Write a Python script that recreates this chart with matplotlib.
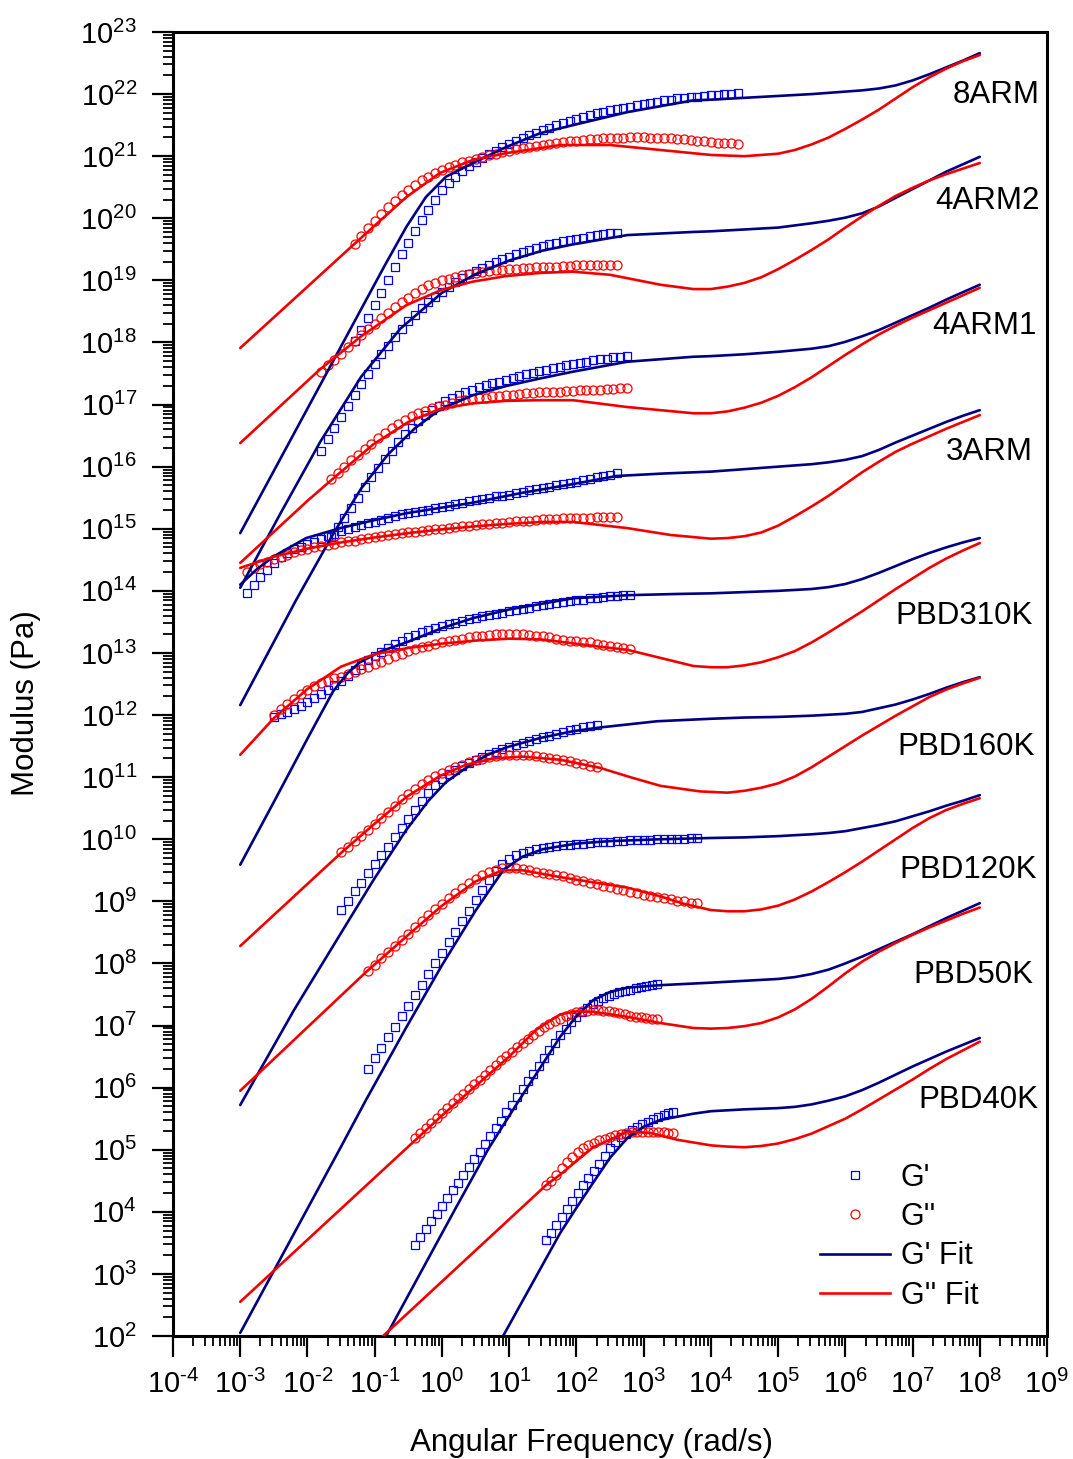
import numpy as np
import matplotlib
matplotlib.use('Agg')
import matplotlib.pyplot as plt
from matplotlib.ticker import FixedLocator, NullFormatter, FuncFormatter
from matplotlib.lines import Line2D

plt.rcParams['font.family'] = ['Liberation Sans', 'DejaVu Sans']
plt.rcParams['mathtext.fontset'] = 'custom'
plt.rcParams['mathtext.rm'] = 'Liberation Sans'
plt.rcParams['mathtext.it'] = 'Liberation Sans:italic'
plt.rcParams['mathtext.bf'] = 'Liberation Sans:bold'

# all values below are log10(angular frequency) / log10(modulus)

# ---------------- 8ARM ----------------
ARM8_W = [-1.3, -1.2, -1.1, -1.0, -0.9, -0.8, -0.7, -0.6, -0.5, -0.4,
          -0.3, -0.2, -0.1, 0.0, 0.1, 0.2, 0.3, 0.4, 0.5, 0.6,
          0.7, 0.8, 0.9, 1.0, 1.1, 1.2, 1.3, 1.4, 1.5, 1.6,
          1.7, 1.8, 1.9, 2.0, 2.1, 2.2, 2.3, 2.4, 2.5, 2.6,
          2.7, 2.8, 2.9, 3.0, 3.1, 3.2, 3.3, 3.4, 3.5, 3.6,
          3.7, 3.8, 3.9, 4.0, 4.1, 4.2, 4.3, 4.4]
ARM8_GP = [18.02, 18.2, 18.4, 18.6, 18.8, 19.01, 19.22, 19.42, 19.61, 19.8,
           19.98, 20.14, 20.3, 20.45, 20.57, 20.67, 20.76, 20.84, 20.91, 20.97,
           21.03, 21.09, 21.14, 21.19, 21.24, 21.29, 21.34, 21.38, 21.42, 21.46,
           21.5, 21.54, 21.57, 21.6, 21.63, 21.66, 21.69, 21.71, 21.74, 21.76,
           21.78, 21.8, 21.82, 21.84, 21.86, 21.88, 21.9, 21.91, 21.93, 21.94,
           21.95, 21.96, 21.97, 21.98, 21.99, 22.0, 22.0, 22.01]
ARM8_GPP = [19.58, 19.72, 19.84, 19.96, 20.07, 20.18, 20.28, 20.37, 20.46, 20.54,
            20.61, 20.67, 20.73, 20.78, 20.82, 20.86, 20.9, 20.93, 20.96, 20.99,
            21.02, 21.04, 21.07, 21.09, 21.11, 21.13, 21.15, 21.17, 21.18, 21.2,
            21.21, 21.23, 21.24, 21.25, 21.26, 21.27, 21.28, 21.29, 21.29, 21.3,
            21.3, 21.31, 21.31, 21.31, 21.3, 21.3, 21.29, 21.29, 21.28, 21.27,
            21.26, 21.25, 21.24, 21.23, 21.22, 21.21, 21.21, 21.2]
ARM8_FIT_GP_W = [-3.0, -1.13, -0.83, -0.53, -0.24, 0.06, 0.3, 0.46, 0.96, 1.46,
                 1.95, 2.76, 3.74, 4.0, 4.5, 5.0, 5.5, 5.75, 6.0, 6.25,
                 6.5, 6.75, 7.0, 7.25, 7.5, 7.75, 8.0]
ARM8_FIT_GP = [14.93, 18.68, 19.28, 19.86, 20.34, 20.67, 20.8, 20.89, 21.15, 21.37,
               21.5, 21.71, 21.9, 21.91, 21.94, 21.97, 22.0, 22.02, 22.04, 22.06,
               22.09, 22.14, 22.22, 22.32, 22.43, 22.54, 22.66]
ARM8_FIT_GPP_W = [-3.0, -1.37, -0.9, -0.53, -0.03, 0.46, 0.96, 1.46, 1.76, 2.5,
                  3.25, 4.0, 4.5, 5.0, 5.25, 5.5, 5.75, 6.0, 6.25, 6.5,
                  6.75, 7.0, 7.25, 7.5, 7.75, 8.0]
ARM8_FIT_GPP = [17.91, 19.52, 19.98, 20.34, 20.73, 20.94, 21.05, 21.13, 21.18, 21.18,
                21.1, 21.02, 21.0, 21.04, 21.1, 21.19, 21.3, 21.44, 21.59, 21.75,
                21.93, 22.11, 22.27, 22.41, 22.53, 22.63]

# ---------------- 4ARM2 ----------------
ARM4B_W = [-1.8, -1.7, -1.6, -1.5, -1.4, -1.3, -1.2, -1.1, -1.0, -0.9,
           -0.8, -0.7, -0.6, -0.5, -0.4, -0.3, -0.2, -0.1, 0.0, 0.1,
           0.2, 0.3, 0.4, 0.5, 0.6, 0.7, 0.8, 0.9, 1.0, 1.1,
           1.2, 1.3, 1.4, 1.5, 1.6, 1.7, 1.8, 1.9, 2.0, 2.1,
           2.2, 2.3, 2.4, 2.5, 2.6]
ARM4B_GP = [16.25, 16.44, 16.62, 16.8, 16.98, 17.16, 17.33, 17.5, 17.66, 17.81,
            17.95, 18.09, 18.22, 18.34, 18.45, 18.55, 18.65, 18.74, 18.82, 18.9,
            18.97, 19.04, 19.1, 19.15, 19.2, 19.25, 19.3, 19.34, 19.38, 19.42,
            19.45, 19.49, 19.52, 19.55, 19.58, 19.6, 19.63, 19.65, 19.67, 19.69,
            19.71, 19.73, 19.74, 19.76, 19.77]
ARM4B_GPP = [17.53, 17.63, 17.72, 17.82, 17.92, 18.02, 18.12, 18.21, 18.3, 18.39,
             18.48, 18.57, 18.65, 18.72, 18.79, 18.86, 18.92, 18.96, 19.0, 19.03,
             19.06, 19.08, 19.1, 19.12, 19.13, 19.15, 19.16, 19.17, 19.18, 19.19,
             19.2, 19.2, 19.21, 19.21, 19.22, 19.22, 19.23, 19.23, 19.24, 19.24,
             19.24, 19.24, 19.24, 19.24, 19.24]
ARM4B_FIT_GP_W = [-3.0, -2.4, -1.81, -1.2, -0.62, 0.0, 0.5, 1.0, 1.5, 1.95,
                  2.76, 3.74, 4.0, 4.5, 5.0, 5.5, 5.75, 6.0, 6.25, 6.5,
                  6.75, 7.0, 7.25, 7.5, 7.75, 8.0]
ARM4B_FIT_GP = [14.05, 15.25, 16.4, 17.45, 18.22, 18.8, 19.1, 19.32, 19.48, 19.58,
                19.73, 19.78, 19.79, 19.82, 19.85, 19.92, 19.96, 20.01, 20.08, 20.19,
                20.33, 20.47, 20.61, 20.75, 20.87, 20.99]
ARM4B_FIT_GPP_W = [-3.0, -1.81, -1.2, -0.53, 0.0, 0.46, 0.96, 1.46, 1.95, 2.5,
                   3.25, 3.74, 4.0, 4.25, 4.5, 4.75, 5.0, 5.25, 5.5, 5.75,
                   6.0, 6.25, 6.5, 6.75, 7.0, 7.25, 7.5, 7.75, 8.0]
ARM4B_FIT_GPP = [16.38, 17.57, 18.1, 18.6, 18.85, 18.98, 19.07, 19.12, 19.14, 19.09,
                 18.93, 18.86, 18.86, 18.9, 18.96, 19.05, 19.18, 19.33, 19.49, 19.66,
                 19.85, 20.03, 20.2, 20.36, 20.49, 20.61, 20.71, 20.8, 20.89]

# ---------------- 4ARM1 ----------------
ARM4A_W = [-1.65, -1.55, -1.45, -1.35, -1.25, -1.15, -1.05, -0.95, -0.85, -0.75,
           -0.65, -0.55, -0.45, -0.35, -0.25, -0.15, -0.05, 0.05, 0.15, 0.25,
           0.35, 0.45, 0.55, 0.65, 0.75, 0.85, 0.95, 1.05, 1.15, 1.25,
           1.35, 1.45, 1.55, 1.65, 1.75, 1.85, 1.95, 2.05, 2.15, 2.25,
           2.35, 2.45, 2.55, 2.65, 2.75]
ARM4A_GP = [14.87, 15.03, 15.18, 15.34, 15.5, 15.67, 15.83, 15.98, 16.12, 16.26,
            16.4, 16.52, 16.63, 16.73, 16.83, 16.91, 16.98, 17.05, 17.11, 17.16,
            17.2, 17.24, 17.28, 17.31, 17.34, 17.37, 17.4, 17.43, 17.46, 17.49,
            17.51, 17.54, 17.56, 17.59, 17.61, 17.63, 17.65, 17.67, 17.69, 17.71,
            17.73, 17.74, 17.76, 17.77, 17.79]
ARM4A_GPP = [15.8, 15.9, 16.0, 16.1, 16.19, 16.28, 16.37, 16.46, 16.54, 16.62,
             16.69, 16.75, 16.81, 16.86, 16.9, 16.94, 16.97, 17.0, 17.03, 17.05,
             17.07, 17.09, 17.1, 17.11, 17.13, 17.14, 17.15, 17.16, 17.17, 17.18,
             17.19, 17.2, 17.2, 17.21, 17.21, 17.22, 17.22, 17.23, 17.23, 17.24,
             17.24, 17.25, 17.25, 17.26, 17.26]
ARM4A_FIT_GP_W = [-3.0, -2.17, -1.6, -1.2, -0.8, -0.4, -0.03, 0.46, 0.96, 1.46,
                  1.95, 2.76, 3.74, 4.0, 4.5, 5.0, 5.5, 5.75, 6.0, 6.25,
                  6.5, 6.75, 7.0, 7.25, 7.5, 7.75, 8.0]
ARM4A_FIT_GP = [12.16, 13.85, 14.95, 15.65, 16.2, 16.62, 16.92, 17.15, 17.3, 17.42,
                17.53, 17.69, 17.77, 17.78, 17.81, 17.85, 17.9, 17.94, 18.01, 18.1,
                18.2, 18.32, 18.44, 18.56, 18.69, 18.81, 18.93]
ARM4A_FIT_GPP_W = [-3.0, -2.0, -1.66, -1.02, -0.5, -0.03, 0.46, 0.96, 1.46, 1.95,
                   2.76, 3.74, 4.0, 4.25, 4.5, 4.75, 5.0, 5.25, 5.5, 5.75,
                   6.0, 6.25, 6.5, 6.75, 7.0, 7.25, 7.5, 7.75, 8.0]
ARM4A_FIT_GPP = [14.45, 15.45, 15.77, 16.36, 16.72, 16.93, 17.02, 17.06, 17.07, 17.07,
                 16.96, 16.86, 16.86, 16.89, 16.95, 17.03, 17.14, 17.28, 17.44, 17.62,
                 17.8, 17.97, 18.13, 18.27, 18.4, 18.52, 18.64, 18.76, 18.88]

# ---------------- 3ARM ----------------
ARM3_W = [-2.9, -2.8, -2.7, -2.6, -2.5, -2.4, -2.3, -2.2, -2.1, -2.0,
          -1.9, -1.8, -1.7, -1.6, -1.5, -1.4, -1.3, -1.2, -1.1, -1.0,
          -0.9, -0.8, -0.7, -0.6, -0.5, -0.4, -0.3, -0.2, -0.1, 0.0,
          0.1, 0.2, 0.3, 0.4, 0.5, 0.6, 0.7, 0.8, 0.9, 1.0,
          1.1, 1.2, 1.3, 1.4, 1.5, 1.6, 1.7, 1.8, 1.9, 2.0,
          2.1, 2.2, 2.3, 2.4, 2.5, 2.6]
ARM3_GP = [13.96, 14.1, 14.22, 14.33, 14.45, 14.54, 14.61, 14.67, 14.71, 14.75,
           14.79, 14.84, 14.88, 14.92, 14.97, 15.0, 15.03, 15.06, 15.09, 15.11,
           15.14, 15.17, 15.2, 15.23, 15.25, 15.27, 15.29, 15.31, 15.33, 15.35,
           15.37, 15.4, 15.42, 15.44, 15.46, 15.48, 15.5, 15.52, 15.53, 15.55,
           15.57, 15.6, 15.62, 15.64, 15.66, 15.68, 15.7, 15.72, 15.74, 15.76,
           15.78, 15.8, 15.83, 15.85, 15.87, 15.9]
ARM3_GPP = [14.31, 14.37, 14.43, 14.47, 14.51, 14.55, 14.58, 14.62, 14.65, 14.67,
            14.7, 14.72, 14.74, 14.76, 14.78, 14.8, 14.81, 14.83, 14.85, 14.86,
            14.88, 14.9, 14.91, 14.93, 14.94, 14.95, 14.97, 14.98, 14.99, 15.0,
            15.01, 15.03, 15.04, 15.05, 15.06, 15.07, 15.08, 15.09, 15.1, 15.11,
            15.12, 15.13, 15.13, 15.14, 15.15, 15.16, 15.16, 15.17, 15.17, 15.18,
            15.18, 15.18, 15.19, 15.19, 15.19, 15.19]
ARM3_FIT_GP_W = [-3.0, -2.75, -2.51, -2.02, -1.51, -1.0, -0.53, 0.46, 1.2, 1.95,
                 2.6, 3.3, 4.0, 4.5, 5.0, 5.5, 5.75, 6.0, 6.25, 6.5,
                 6.75, 7.0, 7.25, 7.5, 7.75, 8.0]
ARM3_FIT_GP = [14.1, 14.35, 14.55, 14.85, 15.01, 15.14, 15.25, 15.42, 15.58, 15.72,
               15.85, 15.89, 15.92, 15.96, 16.0, 16.04, 16.07, 16.11, 16.17, 16.27,
               16.39, 16.5, 16.61, 16.72, 16.82, 16.91]
ARM3_FIT_GPP_W = [-3.0, -2.5, -2.0, -1.5, -1.0, -0.5, 0.0, 0.5, 1.0, 1.5,
                  1.95, 2.76, 3.4, 4.0, 4.25, 4.5, 4.75, 5.0, 5.25, 5.5,
                  5.75, 6.0, 6.25, 6.5, 6.75, 7.0, 7.25, 7.5, 7.75, 8.0]
ARM3_FIT_GPP = [14.37, 14.55, 14.68, 14.78, 14.86, 14.93, 14.99, 15.04, 15.08, 15.11,
                15.11, 15.01, 14.9, 14.84, 14.85, 14.88, 14.94, 15.05, 15.2, 15.36,
                15.53, 15.72, 15.91, 16.08, 16.24, 16.37, 16.49, 16.61, 16.72, 16.83]

# ---------------- PBD310K ----------------
PBD310_W = [-2.5, -2.4, -2.3, -2.2, -2.1, -2.0, -1.9, -1.8, -1.7, -1.6,
            -1.5, -1.4, -1.3, -1.2, -1.1, -1.0, -0.9, -0.8, -0.7, -0.6,
            -0.5, -0.4, -0.3, -0.2, -0.1, 0.0, 0.1, 0.2, 0.3, 0.4,
            0.5, 0.6, 0.7, 0.8, 0.9, 1.0, 1.1, 1.2, 1.3, 1.4,
            1.5, 1.6, 1.7, 1.8, 1.9, 2.0, 2.1, 2.2, 2.3, 2.4,
            2.5, 2.6, 2.7, 2.8]
PBD310_GP = [11.97, 12.01, 12.05, 12.1, 12.15, 12.21, 12.27, 12.34, 12.41, 12.48,
             12.55, 12.63, 12.72, 12.8, 12.88, 12.95, 13.02, 13.08, 13.14, 13.2,
             13.25, 13.29, 13.33, 13.37, 13.4, 13.43, 13.46, 13.49, 13.52, 13.55,
             13.57, 13.59, 13.61, 13.63, 13.65, 13.67, 13.69, 13.71, 13.73, 13.75,
             13.77, 13.79, 13.81, 13.82, 13.84, 13.85, 13.86, 13.88, 13.89, 13.9,
             13.91, 13.92, 13.93, 13.93]
PBD310_GPP = [12.0, 12.09, 12.18, 12.26, 12.34, 12.41, 12.46, 12.51, 12.55, 12.59,
              12.62, 12.66, 12.7, 12.74, 12.78, 12.82, 12.86, 12.91, 12.95, 12.99,
              13.03, 13.06, 13.09, 13.12, 13.14, 13.17, 13.19, 13.21, 13.23, 13.25,
              13.27, 13.28, 13.29, 13.3, 13.31, 13.31, 13.31, 13.3, 13.29, 13.28,
              13.27, 13.25, 13.23, 13.21, 13.2, 13.19, 13.18, 13.17, 13.15, 13.13,
              13.11, 13.1, 13.08, 13.07]
PBD310_FIT_GP_W = [-3.0, -2.5, -2.0, -1.62, -1.4, -1.22, -0.9, -0.53, 0.0, 0.46,
                   1.0, 1.95, 2.76, 3.5, 4.0, 4.5, 5.0, 5.5, 5.75, 6.0,
                   6.25, 6.5, 6.75, 7.0, 7.25, 7.5, 7.75, 8.0]
PBD310_FIT_GP = [9.59, 10.6, 11.62, 12.38, 12.68, 12.85, 13.03, 13.17, 13.4, 13.56,
                 13.7, 13.88, 13.93, 13.95, 13.96, 13.98, 14.0, 14.03, 14.06, 14.11,
                 14.19, 14.29, 14.4, 14.51, 14.61, 14.7, 14.78, 14.85]
PBD310_FIT_GPP_W = [-3.0, -2.5, -2.0, -1.5, -1.0, -0.5, 0.0, 0.5, 1.0, 1.46,
                    1.76, 2.35, 2.76, 3.25, 3.74, 4.0, 4.25, 4.5, 4.75, 5.0,
                    5.25, 5.5, 5.75, 6.0, 6.25, 6.5, 6.75, 7.0, 7.25, 7.5,
                    7.75, 8.0]
PBD310_FIT_GPP = [11.36, 11.95, 12.42, 12.78, 12.98, 13.08, 13.15, 13.2, 13.23, 13.22,
                  13.18, 13.1, 13.05, 12.92, 12.79, 12.77, 12.77, 12.8, 12.85, 12.93,
                  13.03, 13.17, 13.33, 13.5, 13.67, 13.85, 14.03, 14.2, 14.37, 14.52,
                  14.65, 14.77]

# ---------------- PBD160K ----------------
PBD160_W = [-1.5, -1.4, -1.3, -1.2, -1.1, -1.0, -0.9, -0.8, -0.7, -0.6,
            -0.5, -0.4, -0.3, -0.2, -0.1, 0.0, 0.1, 0.2, 0.3, 0.4,
            0.5, 0.6, 0.7, 0.8, 0.9, 1.0, 1.1, 1.2, 1.3, 1.4,
            1.5, 1.6, 1.7, 1.8, 1.9, 2.0, 2.1, 2.2, 2.3]
PBD160_GP = [8.86, 9.01, 9.16, 9.3, 9.45, 9.6, 9.74, 9.88, 10.03, 10.18,
             10.33, 10.47, 10.62, 10.75, 10.87, 10.97, 11.05, 11.12, 11.18, 11.23,
             11.28, 11.33, 11.37, 11.41, 11.45, 11.49, 11.52, 11.55, 11.58, 11.61,
             11.64, 11.67, 11.7, 11.73, 11.76, 11.78, 11.8, 11.82, 11.84]
PBD160_GPP = [9.8, 9.88, 9.97, 10.06, 10.15, 10.24, 10.34, 10.44, 10.54, 10.64,
              10.73, 10.81, 10.89, 10.96, 11.02, 11.07, 11.12, 11.16, 11.2, 11.24,
              11.27, 11.3, 11.32, 11.34, 11.35, 11.36, 11.36, 11.36, 11.35, 11.34,
              11.33, 11.31, 11.3, 11.28, 11.26, 11.23, 11.21, 11.18, 11.16]
PBD160_FIT_GP_W = [-3.0, -2.2, -1.32, -1.02, -0.53, -0.2, 0.06, 0.36, 0.66, 0.96,
                   1.46, 1.95, 2.35, 3.2, 4.0, 4.5, 5.0, 5.5, 6.0, 6.25,
                   6.5, 6.75, 7.0, 7.25, 7.5, 7.75, 8.0]
PBD160_FIT_GP = [5.72, 7.25, 8.81, 9.34, 10.15, 10.62, 10.92, 11.15, 11.35, 11.48,
                 11.63, 11.74, 11.8, 11.9, 11.94, 11.96, 11.97, 11.99, 12.02, 12.05,
                 12.11, 12.17, 12.25, 12.34, 12.44, 12.53, 12.61]
PBD160_FIT_GPP_W = [-3.0, -1.5, -1.0, -0.53, -0.03, 0.36, 0.76, 1.2, 1.76, 2.35,
                    2.8, 3.25, 3.84, 4.25, 4.5, 4.75, 5.0, 5.25, 5.5, 5.75,
                    6.0, 6.25, 6.5, 6.75, 7.0, 7.25, 7.5, 7.75, 8.0]
PBD160_FIT_GPP = [8.28, 9.78, 10.25, 10.68, 11.02, 11.2, 11.3, 11.33, 11.28, 11.15,
                  11.0, 10.86, 10.77, 10.75, 10.78, 10.83, 10.9, 11.01, 11.16, 11.33,
                  11.5, 11.67, 11.83, 11.99, 12.14, 12.29, 12.41, 12.51, 12.6]

# ---------------- PBD120K ----------------
PBD120_W = [-1.1, -1.0, -0.9, -0.8, -0.7, -0.6, -0.5, -0.4, -0.3, -0.2,
            -0.1, 0.0, 0.1, 0.2, 0.3, 0.4, 0.5, 0.6, 0.7, 0.8,
            0.9, 1.0, 1.1, 1.2, 1.3, 1.4, 1.5, 1.6, 1.7, 1.8,
            1.9, 2.0, 2.1, 2.2, 2.3, 2.4, 2.5, 2.6, 2.7, 2.8,
            2.9, 3.0, 3.1, 3.2, 3.3, 3.4, 3.5, 3.6, 3.7, 3.8]
PBD120_GP = [6.3, 6.47, 6.64, 6.81, 6.98, 7.15, 7.32, 7.49, 7.66, 7.83,
             8.0, 8.17, 8.34, 8.51, 8.68, 8.85, 9.02, 9.19, 9.35, 9.49,
             9.6, 9.68, 9.74, 9.78, 9.81, 9.84, 9.86, 9.88, 9.89, 9.9,
             9.91, 9.92, 9.93, 9.94, 9.95, 9.96, 9.96, 9.97, 9.97, 9.98,
             9.98, 9.99, 9.99, 10.0, 10.0, 10.0, 10.01, 10.01, 10.02, 10.02]
PBD120_GPP = [7.88, 7.98, 8.08, 8.18, 8.28, 8.38, 8.48, 8.58, 8.68, 8.78,
              8.87, 8.96, 9.05, 9.13, 9.21, 9.29, 9.36, 9.42, 9.47, 9.51,
              9.53, 9.54, 9.53, 9.52, 9.5, 9.48, 9.46, 9.44, 9.42, 9.4,
              9.37, 9.35, 9.33, 9.3, 9.28, 9.25, 9.23, 9.2, 9.18, 9.15,
              9.13, 9.11, 9.09, 9.07, 9.05, 9.03, 9.01, 9.0, 8.98, 8.97]
PBD120_FIT_GP_W = [-3.0, -1.51, -1.13, -0.53, 0.0, 0.5, 0.91, 1.2, 1.5, 2.0,
                   2.5, 3.25, 4.0, 4.5, 5.0, 5.5, 5.75, 6.0, 6.25, 6.5,
                   6.75, 7.0, 7.25, 7.5, 7.75, 8.0]
PBD120_FIT_GP = [2.05, 5.03, 5.8, 6.97, 7.97, 8.85, 9.5, 9.72, 9.84, 9.93,
                 9.97, 10.0, 10.02, 10.03, 10.05, 10.08, 10.1, 10.13, 10.18, 10.23,
                 10.29, 10.37, 10.45, 10.54, 10.62, 10.71]
PBD120_FIT_GPP_W = [-3.0, -1.13, -0.5, 0.0, 0.5, 0.9, 1.2, 1.76, 2.76, 3.25,
                    3.6, 4.0, 4.25, 4.5, 4.75, 5.0, 5.25, 5.5, 5.75, 6.0,
                    6.25, 6.5, 6.75, 7.0, 7.25, 7.5, 7.75, 8.0]
PBD120_FIT_GPP = [5.95, 7.86, 8.46, 8.93, 9.32, 9.5, 9.5, 9.39, 9.22, 9.08,
                  8.96, 8.86, 8.84, 8.84, 8.87, 8.93, 9.03, 9.16, 9.31, 9.47,
                  9.64, 9.82, 10.0, 10.18, 10.34, 10.47, 10.57, 10.66]

# ---------------- PBD50K ----------------
PBD50_W = [-0.4, -0.32, -0.24, -0.16, -0.08, 0.0, 0.08, 0.16, 0.24, 0.32,
           0.4, 0.48, 0.56, 0.64, 0.72, 0.8, 0.88, 0.96, 1.04, 1.12,
           1.2, 1.28, 1.36, 1.44, 1.52, 1.6, 1.68, 1.76, 1.84, 1.92,
           2.0, 2.08, 2.16, 2.24, 2.32, 2.4, 2.48, 2.56, 2.64, 2.72,
           2.8, 2.88, 2.96, 3.04, 3.12, 3.2]
PBD50_GP = [3.47, 3.6, 3.72, 3.85, 3.97, 4.1, 4.22, 4.35, 4.47, 4.6,
            4.72, 4.85, 4.97, 5.1, 5.22, 5.35, 5.47, 5.6, 5.72, 5.85,
            5.97, 6.1, 6.22, 6.35, 6.47, 6.6, 6.72, 6.84, 6.95, 7.05,
            7.14, 7.22, 7.29, 7.35, 7.4, 7.44, 7.48, 7.51, 7.54, 7.56,
            7.58, 7.6, 7.62, 7.64, 7.66, 7.67]
PBD50_GPP = [5.19, 5.27, 5.35, 5.43, 5.51, 5.59, 5.67, 5.75, 5.83, 5.9,
             5.98, 6.06, 6.13, 6.21, 6.29, 6.36, 6.44, 6.51, 6.58, 6.65,
             6.72, 6.79, 6.85, 6.91, 6.97, 7.02, 7.07, 7.11, 7.15, 7.18,
             7.21, 7.23, 7.24, 7.25, 7.25, 7.24, 7.23, 7.22, 7.2, 7.18,
             7.16, 7.14, 7.13, 7.12, 7.11, 7.1]
PBD50_FIT_GP_W = [-3.0, -0.83, 0.2, 0.7, 1.15, 1.45, 1.76, 2.0, 2.25, 2.5,
                  2.76, 3.25, 4.0, 4.5, 5.0, 5.25, 5.5, 5.75, 6.0, 6.25,
                  6.5, 6.75, 7.0, 7.25, 7.5, 7.75, 8.0]
PBD50_FIT_GP = [-2.3, 2.0, 4.05, 5.03, 5.8, 6.3, 6.82, 7.15, 7.41, 7.54,
                7.61, 7.65, 7.69, 7.72, 7.75, 7.78, 7.83, 7.9, 8.0, 8.11,
                8.23, 8.35, 8.47, 8.6, 8.73, 8.85, 8.97]
PBD50_FIT_GPP_W = [-3.0, 0.0, 1.0, 1.4, 1.76, 2.0, 2.25, 2.76, 3.25, 3.74,
                   4.0, 4.25, 4.5, 4.75, 5.0, 5.25, 5.5, 5.75, 6.0, 6.25,
                   6.5, 6.75, 7.0, 7.25, 7.5, 7.75, 8.0]
PBD50_FIT_GPP = [2.55, 5.55, 6.5, 6.93, 7.18, 7.23, 7.22, 7.14, 7.04, 6.96,
                 6.95, 6.96, 6.99, 7.04, 7.13, 7.26, 7.43, 7.63, 7.84, 8.03,
                 8.19, 8.33, 8.46, 8.58, 8.69, 8.8, 8.9]

# ---------------- PBD40K ----------------
PBD40_W = [1.55, 1.62, 1.7, 1.78, 1.86, 1.94, 2.02, 2.1, 2.18, 2.26,
           2.34, 2.42, 2.5, 2.58, 2.66, 2.74, 2.82, 2.9, 2.98, 3.06,
           3.14, 3.22, 3.3, 3.37, 3.44]
PBD40_GP = [3.54, 3.66, 3.78, 3.92, 4.05, 4.18, 4.31, 4.43, 4.54, 4.65,
            4.77, 4.9, 5.02, 5.12, 5.2, 5.26, 5.32, 5.37, 5.41, 5.45,
            5.49, 5.53, 5.56, 5.59, 5.61]
PBD40_GPP = [4.43, 4.5, 4.6, 4.7, 4.8, 4.89, 4.96, 5.02, 5.07, 5.11,
             5.15, 5.18, 5.21, 5.23, 5.25, 5.27, 5.28, 5.29, 5.29, 5.29,
             5.29, 5.28, 5.28, 5.27, 5.27]
PBD40_FIT_GP_W = [-3.0, 0.91, 1.76, 2.01, 2.25, 2.5, 2.76, 3.0, 3.25, 3.74,
                  4.0, 4.5, 5.0, 5.25, 5.5, 5.75, 6.0, 6.25, 6.5, 6.75,
                  7.0, 7.25, 7.5, 7.75, 8.0]
PBD40_FIT_GP = [-5.9, 2.0, 3.66, 4.08, 4.47, 4.87, 5.19, 5.37, 5.48, 5.58,
                5.62, 5.65, 5.67, 5.69, 5.73, 5.79, 5.86, 5.96, 6.08, 6.21,
                6.34, 6.46, 6.58, 6.69, 6.8]
PBD40_FIT_GPP_W = [-3.0, -0.875, 1.55, 1.76, 2.25, 2.76, 3.1, 3.5, 4.0, 4.25,
                   4.5, 4.75, 5.0, 5.25, 5.5, 5.75, 6.0, 6.25, 6.5, 6.75,
                   7.0, 7.25, 7.5, 7.75, 8.0]
PBD40_FIT_GPP = [-0.125, 2.0, 4.43, 4.6, 5.04, 5.29, 5.27, 5.16, 5.07, 5.05,
                 5.04, 5.06, 5.1, 5.17, 5.26, 5.38, 5.5, 5.65, 5.81, 5.97,
                 6.13, 6.3, 6.46, 6.6, 6.74]

SAMPLES = ['8ARM', '4ARM2', '4ARM1', '3ARM', 'PBD310K', 'PBD160K', 'PBD120K', 'PBD50K', 'PBD40K']
# label anchor (right edge / vertical centre) in figure pixels
LABEL_X = [1040, 1040, 1037, 1033, 1033, 1035, 1037, 1033, 1038]
LABEL_Y = [95, 201, 326, 452, 616, 747, 870, 975, 1100]

# decade tick exponents shown on the axes
X_DECADES = [-4, -3, -2, -1, 0, 1, 2, 3, 4, 5, 6, 7, 8, 9]
Y_DECADES = [2, 3, 4, 5, 6, 7, 8, 9, 10, 11, 12, 13, 14, 15, 16, 17, 18, 19, 20, 21, 22, 23]

ALL = [
    (ARM8_W, ARM8_GP, ARM8_GPP, ARM8_FIT_GP_W, ARM8_FIT_GP, ARM8_FIT_GPP_W, ARM8_FIT_GPP),
    (ARM4B_W, ARM4B_GP, ARM4B_GPP, ARM4B_FIT_GP_W, ARM4B_FIT_GP, ARM4B_FIT_GPP_W, ARM4B_FIT_GPP),
    (ARM4A_W, ARM4A_GP, ARM4A_GPP, ARM4A_FIT_GP_W, ARM4A_FIT_GP, ARM4A_FIT_GPP_W, ARM4A_FIT_GPP),
    (ARM3_W, ARM3_GP, ARM3_GPP, ARM3_FIT_GP_W, ARM3_FIT_GP, ARM3_FIT_GPP_W, ARM3_FIT_GPP),
    (PBD310_W, PBD310_GP, PBD310_GPP, PBD310_FIT_GP_W, PBD310_FIT_GP, PBD310_FIT_GPP_W, PBD310_FIT_GPP),
    (PBD160_W, PBD160_GP, PBD160_GPP, PBD160_FIT_GP_W, PBD160_FIT_GP, PBD160_FIT_GPP_W, PBD160_FIT_GPP),
    (PBD120_W, PBD120_GP, PBD120_GPP, PBD120_FIT_GP_W, PBD120_FIT_GP, PBD120_FIT_GPP_W, PBD120_FIT_GPP),
    (PBD50_W, PBD50_GP, PBD50_GPP, PBD50_FIT_GP_W, PBD50_FIT_GP, PBD50_FIT_GPP_W, PBD50_FIT_GPP),
    (PBD40_W, PBD40_GP, PBD40_GPP, PBD40_FIT_GP_W, PBD40_FIT_GP, PBD40_FIT_GPP_W, PBD40_FIT_GPP),
]

NAVY = '#000080'
BLUE = '#0000FF'
RED = '#FF0000'

W_PX, H_PX = 1073, 1459
AX_L, AX_R, AX_T, AX_B = 173, 1047, 32, 1336

fig = plt.figure(figsize=(W_PX / 100, H_PX / 100), dpi=100)
ax = fig.add_axes([AX_L / W_PX, (H_PX - AX_B) / H_PX,
                   (AX_R - AX_L) / W_PX, (AX_B - AX_T) / H_PX])
ax.set_xscale('log')
ax.set_yscale('log')


def p10(v):
    return np.power(10.0, np.asarray(v, dtype=float))


for w, gp, gpp, fw1, f1, fw2, f2 in ALL:
    ax.plot(p10(w), p10(gp), ls='none', marker='s', ms=6, mfc='none',
            mec=BLUE, mew=0.9, zorder=2)
    ax.plot(p10(w), p10(gpp), ls='none', marker='o', ms=6.5, mfc='none',
            mec=RED, mew=0.9, zorder=2)
    ax.plot(p10(fw1), p10(f1), color=NAVY, lw=1.9, zorder=3,
            solid_joinstyle='round', solid_capstyle='round')
    ax.plot(p10(fw2), p10(f2), color=RED, lw=1.9, zorder=3,
            solid_joinstyle='round', solid_capstyle='round')
    # thin dark core seen on the red fit lines
    ax.plot(p10(fw2), p10(f2), color='k', lw=0.5, ls=(0, (1, 2)),
            alpha=0.45, zorder=4)

ax.set_xlim(1e-4, 1e9)
ax.set_ylim(1e2, 1e23)


def decade_label(v, pos):
    n = int(round(np.log10(v)))
    return r'$\mathregular{10^{%s}}$' % str(n).replace('-', '\u2010')


def minor_positions(decades):
    return [m * 10.0 ** d for d in decades[:-1] for m in range(2, 10)]


fmt = FuncFormatter(decade_label)
ax.xaxis.set_major_locator(FixedLocator(p10(X_DECADES)))
ax.yaxis.set_major_locator(FixedLocator(p10(Y_DECADES)))
ax.xaxis.set_minor_locator(FixedLocator(minor_positions(X_DECADES)))
ax.yaxis.set_minor_locator(FixedLocator(minor_positions(Y_DECADES)))
ax.xaxis.set_major_formatter(fmt)
ax.yaxis.set_major_formatter(fmt)
ax.xaxis.set_minor_formatter(NullFormatter())
ax.yaxis.set_minor_formatter(NullFormatter())

ax.tick_params(which='major', direction='out', length=15, width=1.6,
               labelsize=21, top=False, right=False)
ax.tick_params(axis='x', which='major', pad=9)
ax.tick_params(axis='y', which='major', pad=11)
ax.tick_params(which='minor', direction='out', length=7, width=1.3,
               top=False, right=False)
for s in ax.spines.values():
    s.set_linewidth(2.2)

ax.set_xlabel('Angular Frequency (rad/s)', fontsize=22.5)
ax.set_ylabel('Modulus (Pa)', fontsize=22.5)
ax.xaxis.set_label_coords((591 - AX_L) / (AX_R - AX_L), (AX_B - 1428) / (AX_B - AX_T))
ax.yaxis.set_label_coords((41 - AX_L) / (AX_R - AX_L), (AX_B - 703) / (AX_B - AX_T))

for name, lx, ly in zip(SAMPLES, LABEL_X, LABEL_Y):
    ax.text((lx - AX_L) / (AX_R - AX_L), (AX_B - ly) / (AX_B - AX_T), name,
            transform=ax.transAxes, ha='right', va='center', fontsize=22.5)

handles = [
    Line2D([], [], ls='none', marker='s', ms=6, mfc='none', mec=BLUE, mew=0.9),
    Line2D([], [], ls='none', marker='o', ms=6.5, mfc='none', mec=RED, mew=0.9),
    Line2D([], [], color=NAVY, lw=1.9),
    Line2D([], [], color=RED, lw=1.9),
]
ax.legend(handles, ["G'", "G''", "G' Fit", "G'' Fit"], loc='upper left',
          bbox_to_anchor=((820 - AX_L) / (AX_R - AX_L), (AX_B - 1163) / (AX_B - AX_T)),
          frameon=False, fontsize=22, borderpad=0, borderaxespad=0,
          handlelength=2.3, handletextpad=0.35, labelspacing=0.3, numpoints=1)

fig.savefig('out.png', dpi=100)
